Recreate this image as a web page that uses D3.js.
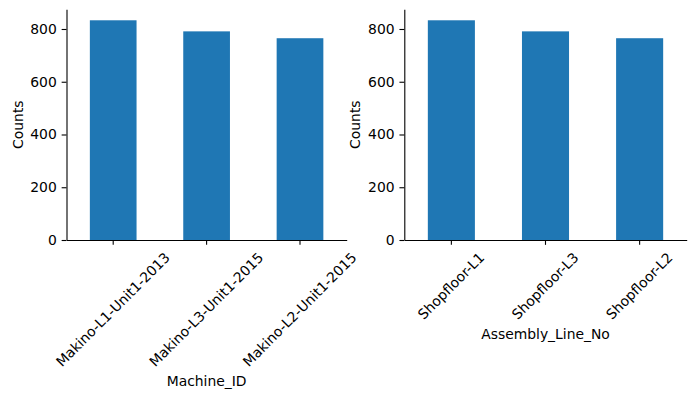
<!DOCTYPE html>
<html>
<head>
<meta charset="utf-8">
<script src="https://cdn.jsdelivr.net/npm/d3@7"></script>
<style>
  body { margin: 0; background: #fff; }
  text { font-family: "DejaVu Sans", sans-serif; fill: #000; }
</style>
</head>
<body>
<svg id="chart" width="695" height="398"></svg>
<script>
// data
const machineIds = ["Makino-L1-Unit1-2013", "Makino-L3-Unit1-2015", "Makino-L2-Unit1-2015"];
const machineCounts = [833, 791, 765];
const assemblyLines = ["Shopfloor-L1", "Shopfloor-L3", "Shopfloor-L2"];
const assemblyCounts = [833, 791, 765];
const yTicks = [0, 200, 400, 600, 800];

const fontSize = 13.9;   // 10pt at 100 dpi
const tickLen = 4.86;    // 3.5pt
const tickPad = 4.86;
const labelPad = 5.56;   // 4pt
const barColor = "#1f77b4";

const svg = d3.select("#chart");
const plotTop = 9.3, plotBottom = 240;

function drawPanel(cats, vals, xTitle, left, right) {
  const g = svg.append("g");

  const x = d3.scaleBand()
    .domain(cats)
    .range([left, right])
    .paddingInner(0.5)
    .paddingOuter(0.25);

  const y = d3.scaleLinear()
    .domain([0, d3.max(vals) * 1.05])
    .range([plotBottom, plotTop]);

  // bars
  g.selectAll("rect")
    .data(cats)
    .enter()
    .append("rect")
    .attr("x", d => x(d))
    .attr("width", x.bandwidth())
    .attr("y", (d, i) => y(vals[i]))
    .attr("height", (d, i) => y(0) - y(vals[i]))
    .attr("fill", barColor);

  // y axis
  const yAxis = g.append("g")
    .attr("transform", "translate(" + left + ",0)")
    .call(d3.axisLeft(y).tickValues(yTicks).tickSize(tickLen).tickPadding(tickPad).tickSizeOuter(0));
  yAxis.select(".domain").attr("stroke", "#000").attr("stroke-width", 1.1);
  yAxis.selectAll(".tick line").attr("stroke", "#000").attr("stroke-width", 1.1);
  yAxis.selectAll(".tick text").attr("font-size", fontSize).attr("font-family", "DejaVu Sans");

  // x axis
  const xAxis = g.append("g")
    .attr("transform", "translate(0," + plotBottom + ")")
    .call(d3.axisBottom(x).tickSize(tickLen).tickSizeOuter(0));
  xAxis.select(".domain").attr("stroke", "#000").attr("stroke-width", 1.1);
  xAxis.selectAll(".tick line").attr("stroke", "#000").attr("stroke-width", 1.1);

  // rotated tick labels, bounding box centred under the tick (matplotlib style)
  const lineH = fontSize * 1.16;
  let maxBottom = 0;
  xAxis.selectAll(".tick text")
    .attr("font-size", fontSize)
    .attr("font-family", "DejaVu Sans")
    .attr("text-anchor", "middle")
    .attr("y", 0)
    .attr("dy", "0.32em")
    .each(function () {
      const L = this.getComputedTextLength();
      const half = (L + lineH) / (2 * Math.SQRT2);
      const cy = tickLen + tickPad + half;
      maxBottom = Math.max(maxBottom, cy + half);
      d3.select(this).attr("transform", "translate(0," + cy + ") rotate(-45)");
    });

  // axis titles
  g.append("text")
    .attr("x", (left + right) / 2)
    .attr("y", plotBottom + maxBottom + labelPad + fontSize * 0.78)
    .attr("text-anchor", "middle")
    .attr("font-size", fontSize)
    .text(xTitle);

  g.append("text")
    .attr("transform", "translate(" + (left - 44) + "," + ((plotTop + plotBottom) / 2) + ") rotate(-90)")
    .attr("text-anchor", "middle")
    .attr("font-size", fontSize)
    .text("Counts");
}

drawPanel(machineIds, machineCounts, "Machine_ID", 66.5, 346.7);
drawPanel(assemblyLines, assemblyCounts, "Assembly_Line_No", 404.3, 686.7);
</script>
</body>
</html>
